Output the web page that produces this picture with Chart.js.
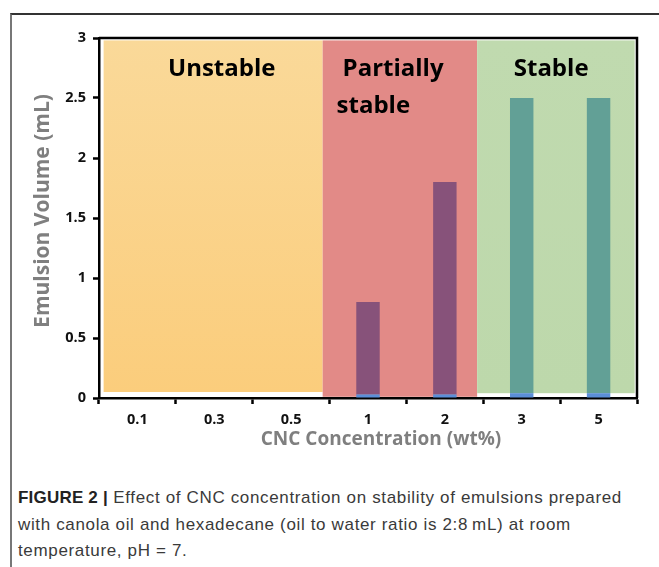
<!DOCTYPE html>
<html>
<head>
<meta charset="utf-8">
<script src="https://cdn.jsdelivr.net/npm/chart.js@4"></script>
<style>
  html, body { margin: 0; padding: 0; background: #fff; }
  body { width: 659px; height: 567px; position: relative; overflow: hidden; }
  #frame { position: absolute; left: 10px; top: 13px; width: 660px; height: 560px;
           border-top: 2px solid #333; border-left: 2px solid #777; }
  #wrap { position: absolute; left: 0; top: 0; width: 659px; height: 460px; }
  #caption { position: absolute; left: 18px; top: 485px; width: 640px; white-space: nowrap;
             font-family: "Liberation Sans", Arial, sans-serif; letter-spacing: 0.65px;
             font-size: 17px; line-height: 26.5px; color: #3a3a3a; }
  #caption b { color: #222; letter-spacing: 0.2px; }
</style>
</head>
<body>
<div id="frame"></div>
<div id="wrap"><canvas id="c" width="659" height="460"></canvas></div>
<div id="caption"><b>FIGURE 2 |</b> Effect of CNC concentration on stability of emulsions prepared<br>with canola oil and hexadecane (oil to water ratio is 2:8&#8201;mL) at room<br>temperature, pH = 7.</div>
<script>
// ---- data ----
const categories = ["0.1", "0.3", "0.5", "1", "2", "3", "5"];
const baseValues = [0, 0, 0, 0.03, 0.03, 0.04, 0.04];          // thin blue base
const emulsionVolume = [0, 0, 0, 0.8, 1.8, 2.5, 2.5];          // total emulsion volume (mL)
const barColors = ["#87527A", "#87527A", "#87527A", "#87527A", "#87527A", "#62A096", "#62A096"];
const regionFrom = [-0.44, 2.41, 4.42];   // category-axis values
const regionTo = [2.41, 4.42, 6.47];
const regionLow = [0.05, 0.01, 0.04];
const regionHigh = [2.98, 2.98, 2.98];
const yTicks = [0, 0.5, 1, 1.5, 2, 2.5, 3];
const yTickLabels = ["0", "0.5", "1", "1.5", "2", "2.5", "3"];
const regionLabels = ["Unstable", "Partially", "stable", "Stable"];
const xTitle = "CNC Concentration (wt%)";
const yTitle = "Emulsion Volume (mL)";

// ---- styling / annotation placement ----
const regionColors = [["#FAD999", "#FBCD7C"], ["#E28A87", "#E28A87"], ["#C0DAAF", "#BDD8AB"]];
const labelPos = [
  { x: 1.097, y: 2.683, align: "center" },
  { x: 2.669, y: 2.683, align: "left" },
  { x: 2.591, y: 2.375, align: "left" },
  { x: 5.383, y: 2.683, align: "center" }
];
const FONT = "'Open Sans', sans-serif";

const topValues = emulsionVolume.map((v, i) => Math.max(0, v - baseValues[i]));

const regionPlugin = {
  id: "regions",
  beforeDatasetsDraw(chart) {
    const { ctx, scales: { x, y } } = chart;
    ctx.save();
    for (let i = 0; i < regionFrom.length; i++) {
      const x0 = x.getPixelForValue(regionFrom[i]);
      const x1 = x.getPixelForValue(regionTo[i]);
      const y0 = y.getPixelForValue(regionHigh[i]);
      const y1 = y.getPixelForValue(regionLow[i]);
      const g = ctx.createLinearGradient(0, y0, 0, y1);
      g.addColorStop(0, regionColors[i][0]);
      g.addColorStop(1, regionColors[i][1]);
      ctx.fillStyle = g;
      ctx.fillRect(x0, y0, x1 - x0, y1 - y0);
    }
    ctx.restore();
  },
  afterDatasetsDraw(chart) {
    const { ctx, scales: { x, y }, chartArea } = chart;
    ctx.save();
    ctx.font = "bold 24px " + FONT;
    ctx.fillStyle = "#000";
    ctx.textBaseline = "alphabetic";
    regionLabels.forEach((t, i) => {
      ctx.textAlign = labelPos[i].align;
      ctx.fillText(t, x.getPixelForValue(labelPos[i].x), y.getPixelForValue(labelPos[i].y));
    });
    // plot box (top & right border)
    ctx.strokeStyle = "#000";
    ctx.lineWidth = 2.5;
    ctx.beginPath();
    ctx.moveTo(chartArea.left, chartArea.top);
    ctx.lineTo(chartArea.right, chartArea.top);
    ctx.lineTo(chartArea.right, chartArea.bottom);
    ctx.stroke();
    // axis titles
    ctx.fillStyle = "#7F7F7F";
    ctx.textAlign = "center";
    ctx.textBaseline = "middle";
    ctx.font = "bold 19px " + FONT;
    ctx.fillText(xTitle, 381, 440);
    ctx.translate(43, 211);
    ctx.rotate(-Math.PI / 2);
    ctx.font = "bold 21px " + FONT;
    ctx.fillText(yTitle, 0, 0);
    ctx.restore();
  }
};

new Chart(document.getElementById("c"), {
  type: "bar",
  data: {
    labels: categories,
    datasets: [
      { data: baseValues, backgroundColor: "#5B8FD8", barPercentage: 0.305, categoryPercentage: 1, stack: "s" },
      { data: topValues, backgroundColor: barColors, barPercentage: 0.305, categoryPercentage: 1, stack: "s" }
    ]
  },
  options: {
    responsive: false,
    animation: false,
    events: [],
    layout: { padding: { left: 0, right: 22, top: 38, bottom: 0 } },
    plugins: { legend: { display: false }, tooltip: { enabled: false } },
    scales: {
      x: {
        stacked: true,
        afterFit: s => { s.height = 62; },
        grid: { drawOnChartArea: false, tickLength: 6, tickWidth: 2.5, color: "#000", offset: true },
        border: { color: "#000", width: 2.5 },
        ticks: { color: "#111", font: { family: FONT, weight: "bold", size: 14.5 }, padding: 7 }
      },
      y: {
        stacked: true,
        min: 0, max: 3,
        afterFit: s => { s.width = 99; },
        afterBuildTicks: s => { s.ticks = yTicks.map(v => ({ value: v })); },
        grid: { drawOnChartArea: false, tickLength: 6, tickWidth: 2.5, color: "#000" },
        border: { color: "#000", width: 2.5 },
        ticks: { color: "#111", font: { family: FONT, weight: "bold", size: 14.5 }, padding: 7,
                 callback: (v, i) => yTickLabels[i] }
      }
    }
  },
  plugins: [regionPlugin]
});
</script>
</body>
</html>
